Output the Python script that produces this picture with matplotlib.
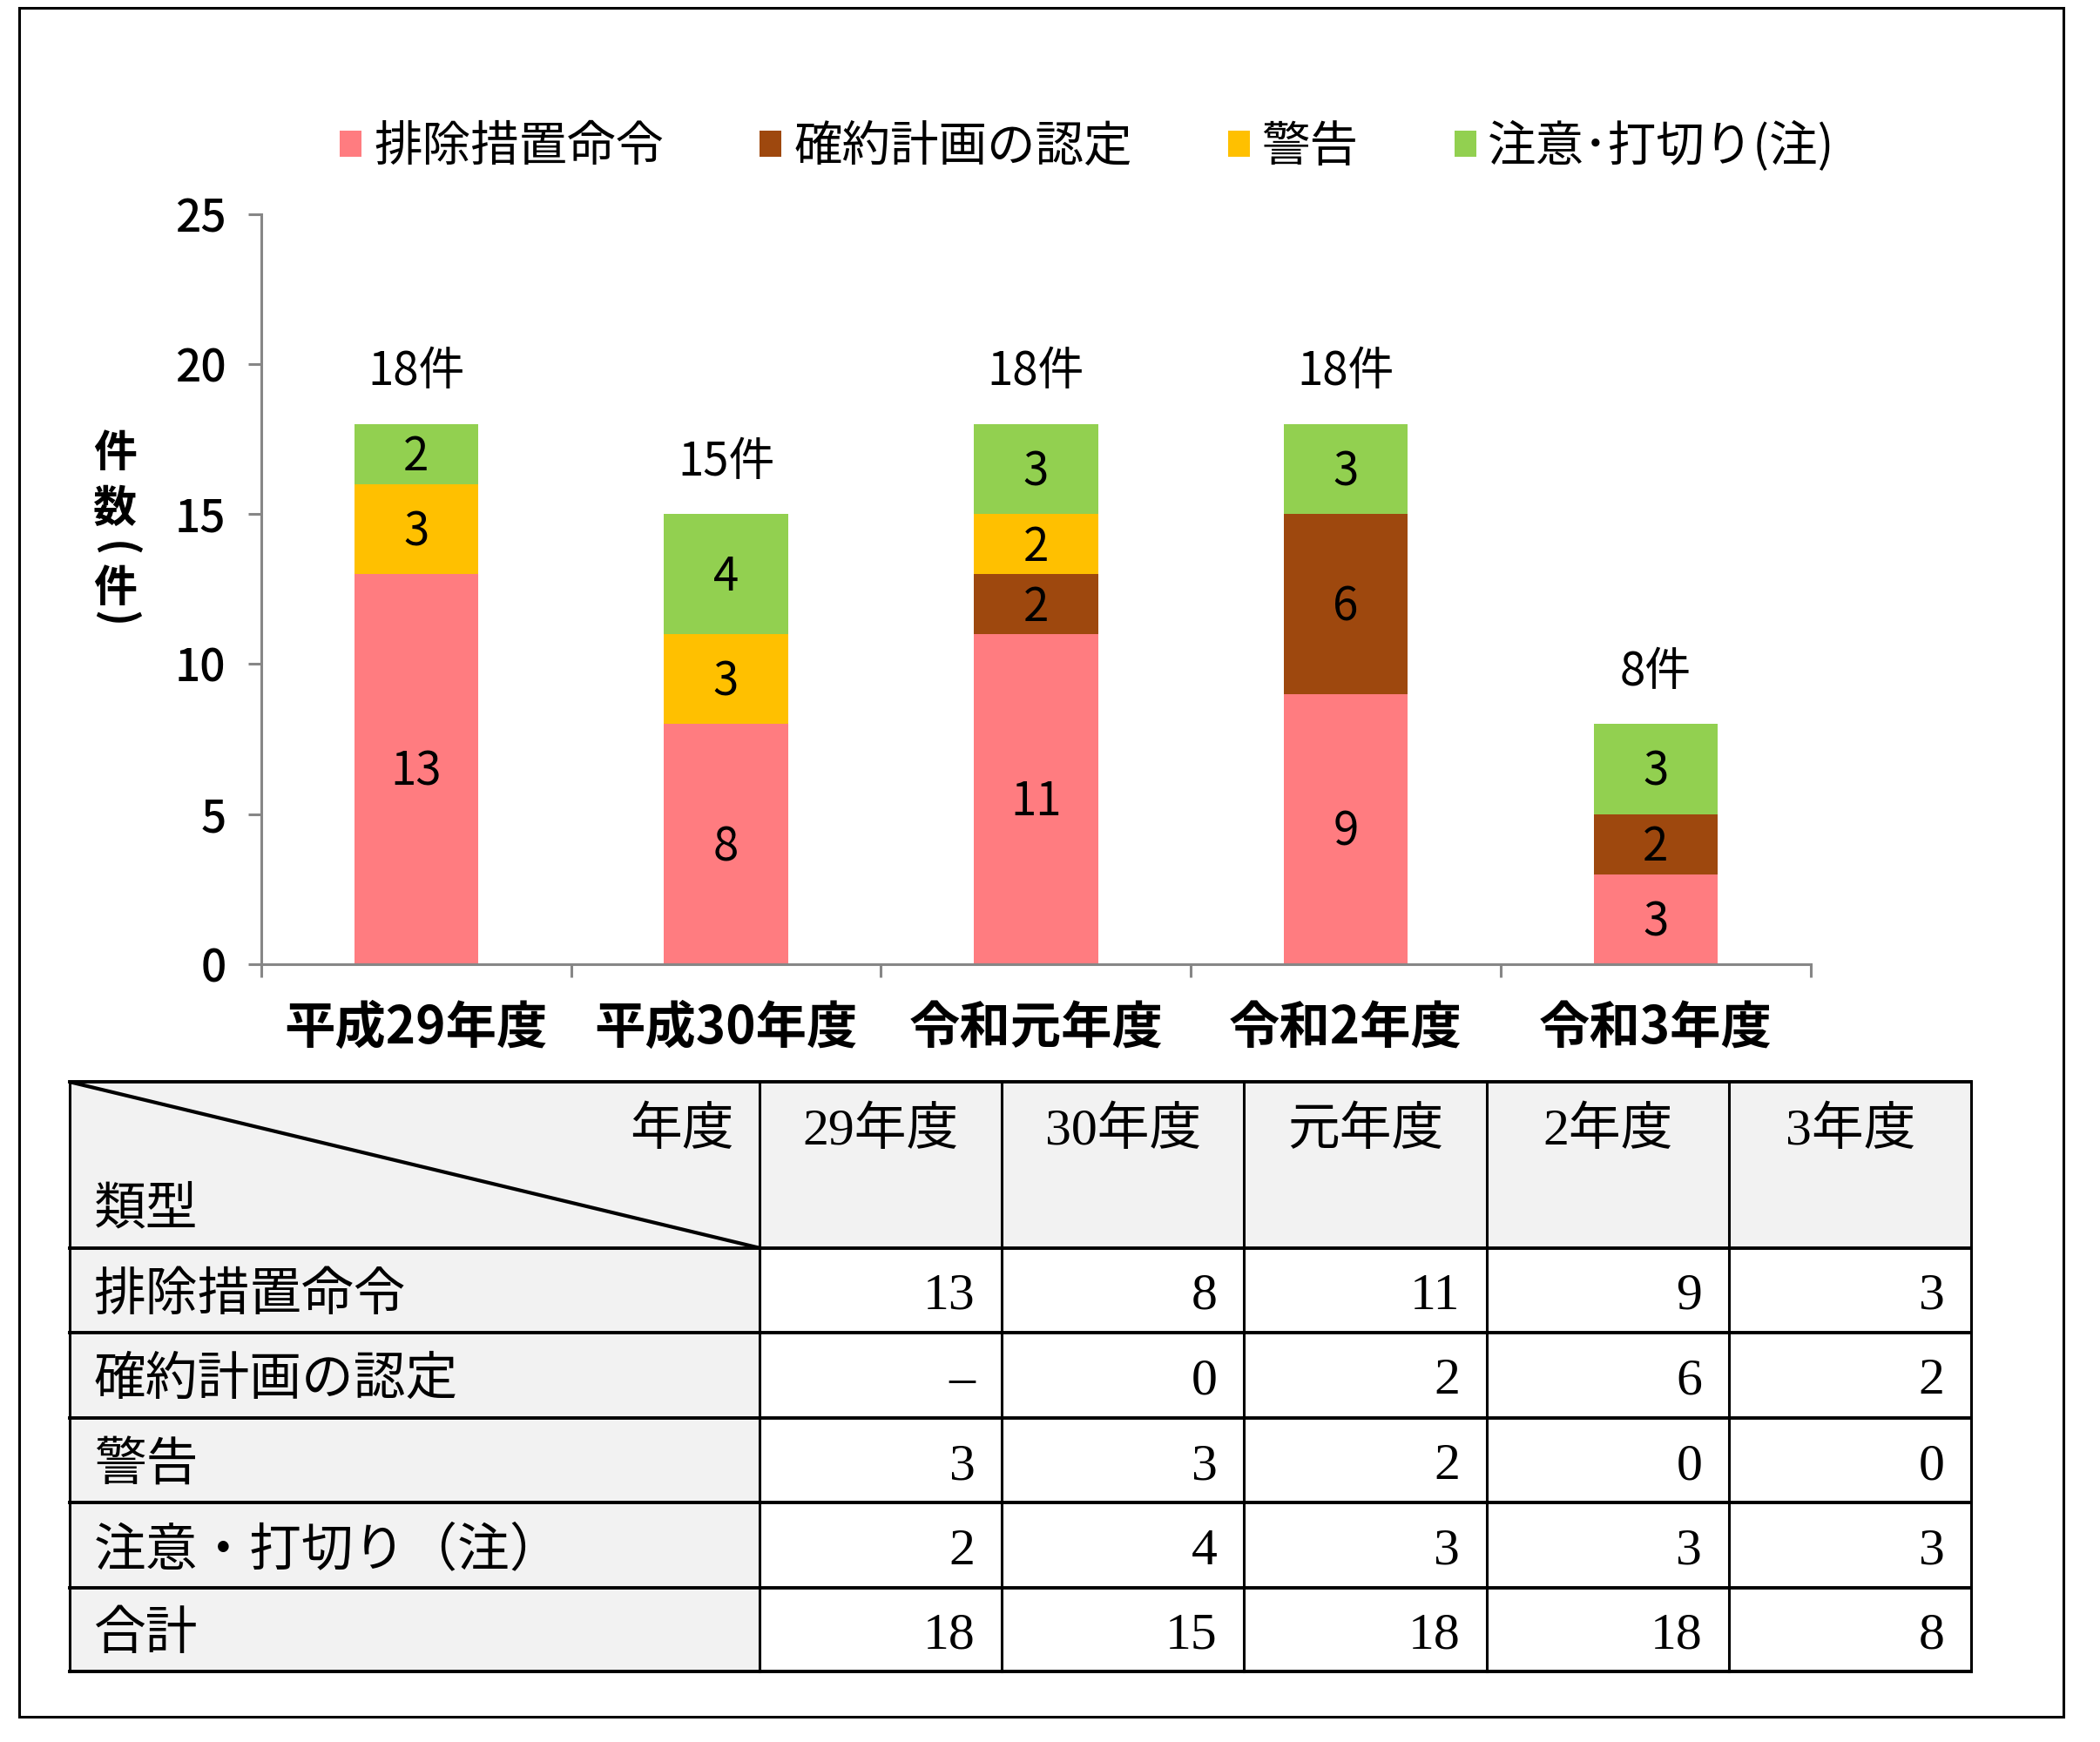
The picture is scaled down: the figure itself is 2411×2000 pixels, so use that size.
import matplotlib
matplotlib.use("Agg")
import matplotlib.pyplot as plt
from matplotlib.patches import Rectangle
import numpy as np

plt.rcParams["font.family"] = ["Noto Sans CJK JP", "DejaVu Sans"]

# データ
years = ["平成29年度", "平成30年度", "令和元年度", "令和2年度", "令和3年度"]
table_years = ["29年度", "30年度", "元年度", "2年度", "3年度"]
legend_labels = ["排除措置命令", "確約計画の認定", "警告", "注意･打切り(注)"]
row_labels = ["排除措置命令", "確約計画の認定", "警告", "注意・打切り（注）", "合計"]

orders = [13, 8, 11, 9, 3]
commitments = [None, 0, 2, 6, 2]   # 29年度は「－」
warnings = [3, 3, 2, 0, 0]
cautions = [2, 4, 3, 3, 3]
totals = [18, 15, 18, 18, 8]

colors = ["#FF7C80", "#9E480E", "#FFC000", "#92D050"]

W, H = 1568, 1301  # 参照画像(縮小)の座標系


def fx(px):
    return px / W


def fy(py):
    return 1 - py / H


fig = plt.figure(figsize=(12.055, 10), dpi=200)

# 外枠
fig.add_artist(Rectangle((fx(14), fy(1282)), fx(1541) - fx(14), fy(6) - fy(1282),
                         transform=fig.transFigure, fill=False, lw=1.1, ec="black"))

# ---- 積み上げ棒グラフ ----
ax = fig.add_axes([fx(195), fy(720), fx(1352) - fx(195), fy(160) - fy(720)])
x = np.arange(len(years))
bottom = np.zeros(len(years))
series = [orders, commitments, warnings, cautions]
for name, vals, color in zip(legend_labels, series, colors):
    v = np.array([0 if a is None else a for a in vals], dtype=float)
    ax.bar(x, v, 0.4, bottom=bottom, color=color, label=name)
    for xi, vi, bi in zip(x, v, bottom):
        if vi > 0:
            ax.text(xi, bi + vi / 2 - 0.1, str(int(vi)), ha="center", va="center", fontsize=19)
    bottom += v

for xi, t in zip(x, totals):
    ax.text(xi, t + 1.75, f"{t}件", ha="center", va="center", fontsize=19)

ax.set_xlim(-0.5, 4.5)
ax.set_ylim(0, 25)
ax.set_yticks(range(0, 26, 5))
for s in ["top", "right"]:
    ax.spines[s].set_visible(False)
for s in ["left", "bottom"]:
    ax.spines[s].set_color("#868686")
    ax.spines[s].set_linewidth(1.1)

ax.set_xticks(np.arange(-0.5, 5, 1))
ax.set_xticklabels([])
ax.set_xticks(x, minor=True)
ax.set_xticklabels(years, minor=True, fontsize=21, fontweight="bold")
ax.tick_params(axis="x", which="major", direction="out", length=5.5, width=1.1, color="#868686")
ax.tick_params(axis="x", which="minor", length=0, pad=16)
ax.tick_params(axis="y", length=5.5, width=1.1, color="#868686", labelsize=18.5, pad=9)
for t in ax.get_yticklabels():
    t.set_fontweight("medium")

# 縦書きの軸ラベル
for ch, py, rot in zip(["件", "数", "(", "件", ")"], [339, 380, 410, 440, 462],
                       [0, 0, -90, 0, -90]):
    fig.text(fx(86), fy(py), ch, ha="center", va="center", fontsize=18,
             fontweight="bold", rotation=rot)

ax.legend(loc="center", bbox_to_anchor=(fx(812), fy(110)), bbox_transform=fig.transFigure,
          ncol=4, frameon=False, fontsize=20, handlelength=0.45, handleheight=0.45,
          handletextpad=0.25, columnspacing=1.98)

# ---- 表 ----
col_w = [515, 181, 181, 181, 181, 181]
row_h = [124, 63, 64, 63, 64, 62]
xs = np.concatenate([[0], np.cumsum(col_w)])
ys = np.concatenate([[0], np.cumsum(row_h)])
tax = fig.add_axes([fx(52), fy(1248), fx(1472) - fx(52), fy(808) - fy(1248)])
tax.set_xlim(0, xs[-1])
tax.set_ylim(ys[-1], 0)
tax.axis("off")

for r in range(len(row_h)):
    for c in range(len(col_w)):
        fc = "#F2F2F2" if (r == 0 or c == 0) else "white"
        tax.add_patch(Rectangle((xs[c], ys[r]), col_w[c], row_h[r], fc=fc, ec="none"))
for yv in ys:
    tax.plot([0, xs[-1]], [yv, yv], color="black", lw=1.4, clip_on=False)
for xv in xs:
    tax.plot([xv, xv], [0, ys[-1]], color="black", lw=1.1, clip_on=False)
tax.plot([0, xs[1]], [0, ys[1]], color="black", lw=1.5)

tfont = ["Liberation Serif", "Noto Sans CJK JP"]
fs = 21.5
dy = 5
tax.text(xs[1] - 19, 32 + dy, "年度", ha="right", va="center", fontsize=fs, family=tfont)
tax.text(18, 92 + dy, "類型", ha="left", va="center", fontsize=fs, family=tfont)
for c, lab in enumerate(table_years):
    tax.text((xs[c + 1] + xs[c + 2]) / 2, 32 + dy, lab, ha="center", va="center",
             fontsize=fs, family=tfont)

table_rows = [orders, commitments, warnings, cautions, totals]
for r, (lab, vals) in enumerate(zip(row_labels, table_rows)):
    yc = (ys[r + 1] + ys[r + 2]) / 2 + dy
    tax.text(18, yc, lab, ha="left", va="center", fontsize=fs, family=tfont)
    for c, v in enumerate(vals):
        s = "–" if v is None else str(v)
        tax.text(xs[c + 2] - 20, yc, s, ha="right", va="center", fontsize=fs, family=tfont)

fig.savefig("out.png", dpi=200)
